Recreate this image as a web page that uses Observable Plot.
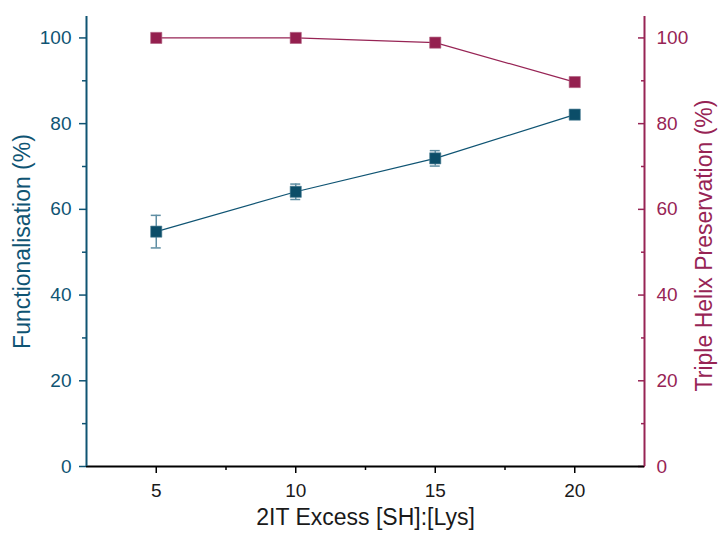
<!DOCTYPE html>
<html>
<head>
<meta charset="utf-8">
<script src="https://cdn.jsdelivr.net/npm/d3@7"></script>
<script src="https://cdn.jsdelivr.net/npm/@observablehq/plot@0.6"></script>
<style>
  html, body { margin: 0; padding: 0; background: #fff; }
  svg { font-family: "Liberation Sans", Arial, sans-serif; }
</style>
</head>
<body>
<div id="chart"></div>
<script>
const excess = [5, 10, 15, 20];
const functionalisation = [54.8, 64.1, 71.9, 82.1];
const funcError = [3.8, 1.8, 1.8, 0.8];
const preservation = [100, 100, 98.9, 89.7];

const xTicks = [5, 10, 15, 20];
const xMinorTicks = [7.5, 12.5, 17.5];
const yTicks = [0, 20, 40, 60, 80, 100];
const yMinorTicks = [10, 30, 50, 70, 90];

const xLabel = "2IT Excess [SH]:[Lys]";
const yLeftLabel = "Functionalisation (%)";
const yRightLabel = "Triple Helix Preservation (%)";

const blue = "#0f5473";
const blueFill = "#0b4d68";
const blueErr = "#5f8ea3";
const red = "#972455";
const redFill = "#94204f";

const funcData = excess.map((x, i) => ({x, y: functionalisation[i], lo: functionalisation[i] - funcError[i], hi: functionalisation[i] + funcError[i]}));
const presData = excess.map((x, i) => ({x, y: preservation[i]}));

const chart = Plot.plot({
  width: 718,
  height: 536,
  marginLeft: 86,
  marginRight: 74,
  marginTop: 16,
  marginBottom: 70,
  style: {fontFamily: "'Liberation Sans', Arial, sans-serif", fontSize: "19px", background: "#fff"},
  x: {domain: [2.5, 22.5]},
  y: {domain: [0, 105]},
  marks: [
    // axes
    Plot.axisX({ticks: xTicks, tickSize: 7, tickPadding: 10, label: null, stroke: "#000", fill: "#1a1a1a", strokeWidth: 1.5, fontSize: 19}),
    Plot.axisX({ticks: xMinorTicks, tickSize: 4, text: null, label: null, stroke: "#000", strokeWidth: 1.5}),
    Plot.axisY({anchor: "left", ticks: yTicks, tickSize: 7, tickPadding: 8, label: null, stroke: blue, fill: blue, strokeWidth: 1.5, fontSize: 19}),
    Plot.axisY({anchor: "left", ticks: yMinorTicks, tickSize: 4, text: null, label: null, stroke: blue, strokeWidth: 1.5}),
    Plot.axisY({anchor: "right", ticks: yTicks, tickSize: -7, tickPadding: 19, label: null, stroke: red, fill: red, strokeWidth: 1.5, fontSize: 19}),
    Plot.axisY({anchor: "right", ticks: yMinorTicks, tickSize: -4, text: null, label: null, stroke: red, strokeWidth: 1.5}),
    Plot.ruleY([0], {stroke: "#000", strokeWidth: 2}),
    Plot.ruleX([2.5], {stroke: blue, strokeWidth: 2}),
    Plot.ruleX([22.5], {stroke: red, strokeWidth: 2}),
    // axis titles
    Plot.text([xLabel], {frameAnchor: "bottom", dy: 58, fontSize: 23, fill: "#1a1a1a", textAnchor: "middle"}),
    Plot.text([yLeftLabel], {frameAnchor: "left", dx: -64, rotate: -90, fontSize: 23, fill: blue, textAnchor: "middle"}),
    Plot.text([yRightLabel], {frameAnchor: "right", dx: 60, dy: 4, rotate: -90, fontSize: 23, fill: red, textAnchor: "middle"}),
    // preservation series
    Plot.line(presData, {x: "x", y: "y", stroke: red, strokeWidth: 1.2}),
    Plot.dot(presData, {x: "x", y: "y", symbol: "square", r: 6.3, fill: redFill, stroke: "#b0607f", strokeWidth: 0.6}),
    // functionalisation series
    Plot.line(funcData, {x: "x", y: "y", stroke: blue, strokeWidth: 1.2}),
    Plot.ruleX(funcData, {x: "x", y1: "lo", y2: "hi", stroke: blueErr, strokeWidth: 1.5}),
    Plot.ruleY(funcData, {y: "hi", x1: "x", x2: "x", insetLeft: -5, insetRight: -5, stroke: blueErr, strokeWidth: 1.5}),
    Plot.ruleY(funcData, {y: "lo", x1: "x", x2: "x", insetLeft: -5, insetRight: -5, stroke: blueErr, strokeWidth: 1.5}),
    Plot.dot(funcData, {x: "x", y: "y", symbol: "square", r: 6.3, fill: blueFill, stroke: "#4d7f95", strokeWidth: 0.6})
  ]
});
document.getElementById("chart").appendChild(chart);
</script>
</body>
</html>
